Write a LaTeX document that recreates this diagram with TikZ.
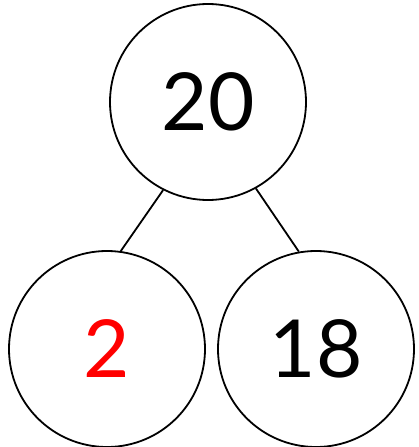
\documentclass[tikz,border=0pt]{standalone}
\usepackage{fontspec}
\setmainfont{Lato}
\begin{document}
\begin{tikzpicture}[x=1pt,y=-1pt,
  numnode/.style={circle,draw=black,line width=1.8pt,minimum size=196pt,inner sep=0pt,font=\fontsize{80}{80}\selectfont},
  link/.style={line width=1.8pt}]
\useasboundingbox (0,0) rectangle (418,447);
\node[numnode] (top) at (208,102) {20};
\node[numnode,text=red] (left) at (107,349) {2};
\node[numnode] (right) at (316,349) {18};
\draw[link] (top.243) -- (left.82);
\draw[link] (top.299) -- (right.100);
\end{tikzpicture}
\end{document}
